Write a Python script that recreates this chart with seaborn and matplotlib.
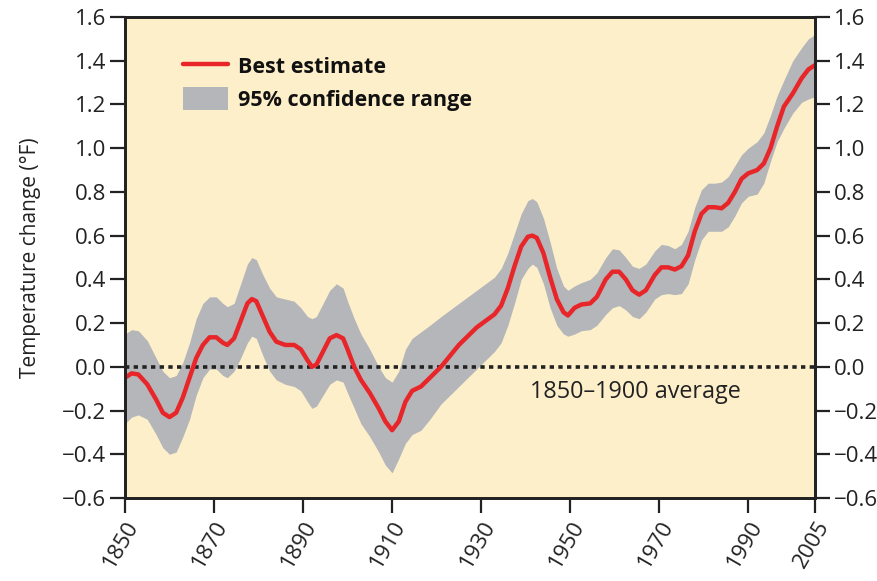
import numpy as np
import pandas as pd
from matplotlib import pyplot as plt
from matplotlib.lines import Line2D
from matplotlib.patches import Patch
import seaborn as sns

# values (deg F, relative to 1850-1900 average)
years = [1850, 1851.5, 1853, 1855, 1857, 1858.5, 1860, 1861.5, 1863, 1864.5,
         1866, 1867.5, 1869, 1870.5, 1872, 1873, 1874.5, 1876, 1877.5, 1878.5,
         1879.5, 1881, 1882.5, 1884, 1886, 1888, 1889.5, 1891, 1892, 1893,
         1894.5, 1896, 1897.5, 1899, 1900, 1901.5, 1903, 1905, 1907, 1908.5,
         1910, 1911.5, 1913, 1914.5, 1916.5, 1918.5, 1921, 1923, 1925, 1927,
         1929, 1931, 1933, 1934.5, 1936, 1937.5, 1939, 1940.5, 1941.5, 1942.5,
         1944, 1945.5, 1947, 1948.5, 1949.5, 1951, 1952.5, 1954.5, 1956, 1958,
         1959.5, 1961, 1962.5, 1964, 1965.5, 1967, 1969, 1970.5, 1972, 1973.5,
         1975, 1976.5, 1978, 1979.5, 1981, 1982.5, 1984, 1985.5, 1987, 1988.5,
         1990, 1992, 1993.5, 1995, 1996.5, 1998, 2000, 2002, 2003.5, 2005]
best = [-0.05, -0.03, -0.035, -0.08, -0.15, -0.21, -0.23, -0.21, -0.14, -0.05,
        0.04, 0.10, 0.135, 0.135, 0.11, 0.10, 0.13, 0.21, 0.29, 0.31,
        0.30, 0.23, 0.16, 0.115, 0.10, 0.10, 0.08, 0.03, 0.0, 0.01,
        0.07, 0.13, 0.145, 0.13, 0.08, 0.0, -0.06, -0.12, -0.19, -0.25,
        -0.29, -0.25, -0.16, -0.11, -0.09, -0.05, 0.0, 0.05, 0.10, 0.14,
        0.18, 0.21, 0.24, 0.28, 0.36, 0.46, 0.55, 0.595, 0.60, 0.59,
        0.52, 0.41, 0.31, 0.25, 0.235, 0.27, 0.285, 0.29, 0.32, 0.40,
        0.435, 0.435, 0.40, 0.35, 0.33, 0.35, 0.42, 0.455, 0.455, 0.445,
        0.46, 0.51, 0.62, 0.70, 0.73, 0.73, 0.725, 0.75, 0.80, 0.86,
        0.885, 0.90, 0.93, 1.00, 1.10, 1.19, 1.25, 1.32, 1.36, 1.38]
upper = [0.15, 0.17, 0.165, 0.12, 0.04, -0.02, -0.05, -0.04, 0.02, 0.11,
         0.22, 0.29, 0.32, 0.32, 0.29, 0.275, 0.29, 0.38, 0.47, 0.50,
         0.49, 0.42, 0.36, 0.32, 0.31, 0.30, 0.27, 0.23, 0.22, 0.23,
         0.29, 0.35, 0.38, 0.36, 0.30, 0.22, 0.15, 0.08, 0.0, -0.05,
         -0.07, -0.02, 0.08, 0.13, 0.16, 0.19, 0.23, 0.26, 0.29, 0.32,
         0.35, 0.38, 0.41, 0.45, 0.52, 0.61, 0.70, 0.76, 0.77, 0.755,
         0.68, 0.57, 0.45, 0.37, 0.35, 0.37, 0.385, 0.40, 0.43, 0.50,
         0.54, 0.535, 0.50, 0.46, 0.45, 0.47, 0.53, 0.56, 0.555, 0.54,
         0.56, 0.62, 0.73, 0.81, 0.84, 0.84, 0.845, 0.87, 0.92, 0.97,
         1.00, 1.03, 1.07, 1.15, 1.24, 1.31, 1.40, 1.46, 1.50, 1.52]
lower = [-0.26, -0.23, -0.22, -0.24, -0.31, -0.37, -0.40, -0.39, -0.32, -0.24,
         -0.13, -0.05, -0.01, -0.01, -0.04, -0.05, -0.02, 0.04, 0.11, 0.14,
         0.13, 0.05, -0.02, -0.06, -0.08, -0.09, -0.11, -0.16, -0.19, -0.18,
         -0.13, -0.08, -0.06, -0.07, -0.12, -0.19, -0.26, -0.32, -0.39, -0.45,
         -0.485, -0.42, -0.35, -0.31, -0.29, -0.24, -0.17, -0.13, -0.09, -0.05,
         -0.01, 0.03, 0.07, 0.11, 0.19, 0.29, 0.40, 0.45, 0.47, 0.455,
         0.38, 0.27, 0.19, 0.15, 0.14, 0.15, 0.165, 0.17, 0.19, 0.24,
         0.27, 0.28, 0.26, 0.23, 0.22, 0.25, 0.31, 0.33, 0.335, 0.33,
         0.335, 0.38, 0.49, 0.58, 0.62, 0.62, 0.62, 0.64, 0.69, 0.75,
         0.78, 0.79, 0.84, 0.94, 1.03, 1.09, 1.16, 1.21, 1.225, 1.235]

x_ticks = [1850, 1870, 1890, 1910, 1930, 1950, 1970, 1990, 2005]
y_ticks = [-0.6, -0.4, -0.2, 0.0, 0.2, 0.4, 0.6, 0.8, 1.0, 1.2, 1.4, 1.6]

df = pd.DataFrame({'year': years, 'best': best, 'upper': upper, 'lower': lower})

red = '#e8262a'
grey = '#b5b6ba'
ink = '#222222'

sns.set_style('ticks')
plt.rcParams['font.family'] = ['Open Sans', 'DejaVu Sans']

fig = plt.figure(figsize=(8.77, 5.81), dpi=100)
ax = fig.add_axes([0.1425, 0.1429, 0.7868, 0.8278])
ax.set_facecolor('#fdefc9')

ax.fill_between(df['year'], df['lower'], df['upper'], color=grey, lw=0, zorder=2)
sns.lineplot(data=df, x='year', y='best', ax=ax, color=red, lw=3.2, zorder=4,
             solid_joinstyle='round', solid_capstyle='round')
ax.axhline(0, color=ink, ls=(0, (1.2, 1.2)), lw=2.6, zorder=3)
ax.text(1941, -0.115, '1850\u20131900 average', fontsize=16.8, color=ink,
        ha='left', va='center')

ax.set_xlim(1850, 2005)
ax.set_ylim(-0.6, 1.6)
ax.set_xticks(x_ticks)
ax.set_xticklabels([str(t) for t in x_ticks], rotation=60, ha='right',
                   rotation_mode='anchor')
ax.set_yticks(y_ticks)
ax.set_yticklabels([f'{t:.1f}'.replace('-', '\u2212') for t in y_ticks])
ax.set_xlabel('')
ax.set_ylabel('Temperature change (\u00b0F)', fontsize=15, color=ink, labelpad=15)

ax2 = ax.twinx()
ax2.set_ylim(-0.6, 1.6)
ax2.set_yticks(y_ticks)
ax2.set_yticklabels([f'{t:.1f}'.replace('-', '\u2212') for t in y_ticks])

for a in (ax, ax2):
    for s in a.spines.values():
        s.set_linewidth(2)
        s.set_color(ink)
    a.tick_params(length=11, width=1.6, labelsize=16, colors=ink, pad=2.5)

handles = [Line2D([], [], color=red, lw=3.2),
           Patch(facecolor=grey, edgecolor='none')]
leg = ax.legend(handles, ['Best estimate', '95% confidence range'],
                loc='upper left', bbox_to_anchor=(0.056, 0.962), frameon=False,
                handlelength=2.1, handleheight=1.25, handletextpad=0.45,
                labelspacing=0.4, prop={'weight': 'bold', 'size': 15.5})
for t in leg.get_texts():
    t.set_color('#111111')

fig.savefig('out.png', dpi=100)
